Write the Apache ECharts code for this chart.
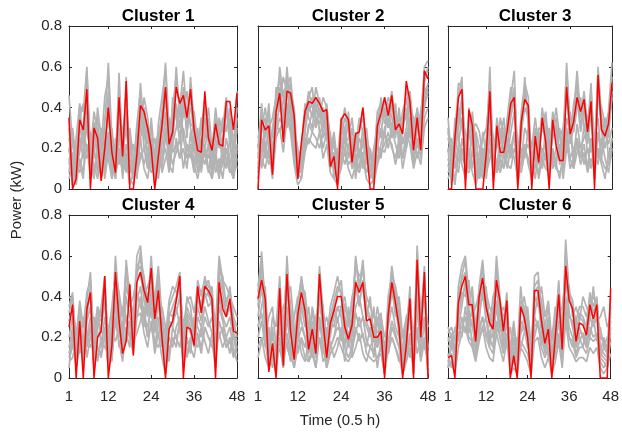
<!DOCTYPE html>
<html>
<head>
<meta charset="utf-8">
<script src="https://cdn.jsdelivr.net/npm/echarts@6/dist/echarts.min.js"></script>
<style>
  html, body { margin: 0; padding: 0; background: #fff; }
  #main { width: 622px; height: 434px; }
</style>
</head>
<body>
<div id="main"></div>
<script>
// tick labels
const xTicks = [1, 12, 24, 36, 48];
const yTicks = [0, 0.2, 0.4, 0.6, 0.8];
const clusterNames = ['Cluster 1', 'Cluster 2', 'Cluster 3', 'Cluster 4', 'Cluster 5', 'Cluster 6'];

// red line of each cluster (kW, one value per half hour)
const red1 = [0.35,0.00,0.05,0.34,0.29,0.49,0.00,0.30,0.25,0.04,0.20,0.40,
  0.18,0.08,0.45,0.16,0.53,0.00,0.00,0.17,0.41,0.38,0.30,0.20,
  0.00,0.16,0.31,0.50,0.22,0.28,0.50,0.42,0.46,0.35,0.49,0.29,
  0.19,0.18,0.48,0.25,0.19,0.32,0.22,0.21,0.43,0.43,0.29,0.47];
const red2 = [0.00,0.34,0.29,0.31,0.07,0.38,0.47,0.23,0.48,0.47,0.36,0.05,
  0.23,0.38,0.43,0.42,0.45,0.42,0.38,0.39,0.11,0.16,0.00,0.34,
  0.37,0.34,0.13,0.27,0.28,0.40,0.20,0.00,0.00,0.31,0.37,0.45,
  0.36,0.46,0.29,0.32,0.27,0.53,0.43,0.19,0.35,0.19,0.58,0.54];
const red3 = [0.00,0.00,0.25,0.45,0.49,0.00,0.39,0.31,0.00,0.00,0.00,0.18,
  0.48,0.00,0.31,0.18,0.18,0.29,0.42,0.45,0.00,0.33,0.44,0.41,
  0.00,0.26,0.13,0.35,0.23,0.00,0.34,0.21,0.14,0.14,0.50,0.27,
  0.33,0.45,0.38,0.44,0.28,0.43,0.00,0.56,0.29,0.26,0.32,0.52];
const red4 = [0.25,0.36,0.00,0.28,0.00,0.34,0.42,0.00,0.20,0.23,0.50,0.00,
  0.16,0.52,0.28,0.12,0.18,0.46,0.11,0.47,0.52,0.43,0.37,0.54,
  0.29,0.43,0.20,0.00,0.24,0.28,0.38,0.50,0.00,0.25,0.24,0.16,
  0.45,0.32,0.45,0.43,0.39,0.00,0.47,0.34,0.30,0.39,0.23,0.22];
const red5 = [0.39,0.48,0.39,0.03,0.17,0.00,0.44,0.06,0.51,0.23,0.09,0.31,
  0.42,0.33,0.14,0.24,0.12,0.51,0.27,0.10,0.27,0.33,0.40,0.40,
  0.25,0.19,0.26,0.47,0.42,0.47,0.28,0.29,0.20,0.20,0.23,0.00,
  0.31,0.47,0.37,0.25,0.00,0.16,0.39,0.00,0.58,0.20,0.52,0.00];
const red6 = [0.10,0.11,0.00,0.37,0.45,0.50,0.36,0.36,0.18,0.40,0.49,0.35,
  0.27,0.24,0.48,0.38,0.23,0.38,0.00,0.11,0.00,0.35,0.30,0.20,
  0.00,0.43,0.43,0.28,0.17,0.24,0.00,0.20,0.41,0.14,0.55,0.38,
  0.34,0.18,0.27,0.26,0.21,0.36,0.29,0.36,0.00,0.00,0.00,0.44];

// grey member lines of each cluster
const grey1 = [
  [0.46,0.22,0.12,0.41,0.38,0.60,0.15,0.33,0.20,0.08,0.31,0.62,0.25,0.10,0.57,0.18,0.30,0.12,0.05,0.28,0.45,0.36,0.22,0.30,
   0.12,0.25,0.38,0.62,0.30,0.20,0.52,0.40,0.58,0.35,0.45,0.28,0.18,0.30,0.44,0.22,0.15,0.35,0.20,0.25,0.38,0.30,0.18,0.48],
  [0.20,0.05,0.18,0.30,0.22,0.45,0.08,0.25,0.35,0.12,0.20,0.38,0.15,0.05,0.42,0.10,0.55,0.08,0.12,0.22,0.36,0.40,0.28,0.15,
   0.05,0.20,0.28,0.45,0.18,0.35,0.42,0.30,0.50,0.25,0.55,0.32,0.15,0.20,0.35,0.28,0.10,0.25,0.32,0.18,0.40,0.22,0.10,0.35],
  [0.12,0.18,0.08,0.25,0.15,0.35,0.22,0.10,0.18,0.05,0.15,0.28,0.08,0.20,0.30,0.05,0.22,0.15,0.10,0.25,0.52,0.28,0.15,0.08,
   0.12,0.05,0.22,0.35,0.15,0.28,0.40,0.22,0.38,0.48,0.30,0.20,0.12,0.25,0.18,0.35,0.08,0.20,0.28,0.12,0.25,0.15,0.05,0.22],
  [0.30,0.10,0.25,0.42,0.20,0.52,0.05,0.30,0.15,0.20,0.45,0.55,0.18,0.08,0.38,0.22,0.48,0.05,0.02,0.15,0.30,0.45,0.35,0.20,
   0.08,0.32,0.45,0.58,0.22,0.30,0.60,0.35,0.45,0.28,0.40,0.38,0.22,0.15,0.40,0.30,0.18,0.40,0.25,0.30,0.45,0.28,0.20,0.40],
  [0.15,0.02,0.10,0.18,0.28,0.20,0.12,0.05,0.22,0.15,0.08,0.20,0.30,0.12,0.18,0.08,0.15,0.25,0.05,0.10,0.18,0.12,0.20,0.25,
   0.05,0.15,0.10,0.25,0.35,0.18,0.22,0.15,0.30,0.20,0.15,0.25,0.08,0.18,0.12,0.22,0.05,0.15,0.10,0.20,0.15,0.08,0.12,0.18],
  [0.25,0.15,0.05,0.35,0.42,0.28,0.20,0.15,0.40,0.25,0.12,0.48,0.20,0.05,0.25,0.30,0.35,0.10,0.08,0.20,0.40,0.20,0.10,0.35,
   0.15,0.08,0.30,0.38,0.10,0.45,0.35,0.25,0.42,0.30,0.50,0.18,0.25,0.10,0.28,0.40,0.20,0.12,0.35,0.28,0.30,0.35,0.25,0.28],
  [0.08,0.25,0.20,0.12,0.05,0.40,0.10,0.20,0.08,0.30,0.22,0.15,0.05,0.25,0.12,0.20,0.08,0.30,0.15,0.05,0.25,0.35,0.10,0.18,
   0.25,0.10,0.15,0.20,0.08,0.22,0.30,0.45,0.25,0.15,0.22,0.10,0.30,0.08,0.20,0.15,0.25,0.08,0.15,0.05,0.20,0.12,0.18,0.10],
  [0.35,0.08,0.15,0.22,0.30,0.58,0.18,0.38,0.28,0.10,0.35,0.42,0.12,0.15,0.48,0.12,0.40,0.20,0.10,0.32,0.48,0.25,0.30,0.15,
   0.10,0.22,0.35,0.50,0.25,0.40,0.55,0.38,0.35,0.40,0.32,0.30,0.20,0.35,0.25,0.32,0.15,0.30,0.22,0.35,0.28,0.40,0.15,0.30],
  [0.05,0.12,0.02,0.15,0.08,0.22,0.05,0.12,0.05,0.18,0.10,0.25,0.05,0.12,0.20,0.08,0.15,0.02,0.08,0.12,0.25,0.10,0.05,0.18,
   0.02,0.10,0.15,0.30,0.12,0.08,0.25,0.15,0.20,0.10,0.28,0.12,0.05,0.15,0.22,0.10,0.05,0.18,0.08,0.12,0.20,0.10,0.05,0.15],
  [0.18,0.30,0.12,0.08,0.20,0.15,0.28,0.08,0.12,0.25,0.05,0.18,0.22,0.08,0.15,0.25,0.10,0.18,0.22,0.08,0.15,0.20,0.25,0.10,
   0.18,0.28,0.08,0.15,0.20,0.12,0.18,0.25,0.10,0.22,0.18,0.08,0.25,0.12,0.18,0.08,0.22,0.15,0.05,0.18,0.10,0.25,0.08,0.20]
];
const grey2 = [
  [0.15,0.38,0.25,0.42,0.12,0.45,0.55,0.32,0.60,0.40,0.25,0.05,0.15,0.35,0.48,0.40,0.38,0.45,0.30,0.42,0.20,0.12,0.05,0.30,
   0.40,0.28,0.15,0.22,0.30,0.35,0.18,0.05,0.12,0.38,0.42,0.35,0.45,0.40,0.30,0.35,0.28,0.50,0.38,0.25,0.40,0.30,0.60,0.63],
  [0.05,0.28,0.35,0.20,0.08,0.30,0.42,0.48,0.50,0.55,0.35,0.10,0.08,0.28,0.40,0.45,0.35,0.32,0.40,0.35,0.15,0.25,0.10,0.20,
   0.30,0.35,0.22,0.10,0.25,0.20,0.30,0.12,0.05,0.25,0.35,0.40,0.30,0.42,0.35,0.25,0.38,0.45,0.30,0.20,0.35,0.22,0.55,0.58],
  [0.20,0.42,0.18,0.30,0.25,0.38,0.48,0.25,0.45,0.52,0.30,0.15,0.20,0.42,0.35,0.30,0.45,0.38,0.25,0.30,0.28,0.05,0.15,0.25,
   0.18,0.38,0.10,0.28,0.15,0.30,0.22,0.08,0.20,0.30,0.25,0.45,0.38,0.30,0.42,0.20,0.32,0.35,0.42,0.15,0.28,0.38,0.50,0.45],
  [0.10,0.20,0.30,0.35,0.15,0.50,0.38,0.42,0.55,0.35,0.20,0.08,0.05,0.30,0.45,0.50,0.30,0.40,0.35,0.25,0.12,0.18,0.08,0.15,
   0.25,0.20,0.30,0.15,0.10,0.25,0.12,0.20,0.10,0.20,0.30,0.25,0.42,0.35,0.25,0.40,0.22,0.30,0.48,0.30,0.20,0.28,0.45,0.52],
  [0.25,0.35,0.22,0.15,0.30,0.42,0.50,0.38,0.40,0.45,0.28,0.18,0.10,0.20,0.30,0.38,0.42,0.28,0.30,0.38,0.22,0.10,0.20,0.12,
   0.30,0.15,0.25,0.05,0.20,0.15,0.25,0.18,0.08,0.15,0.22,0.30,0.35,0.25,0.30,0.32,0.15,0.25,0.35,0.28,0.15,0.25,0.40,0.48],
  [0.08,0.30,0.40,0.25,0.20,0.35,0.60,0.45,0.35,0.48,0.40,0.12,0.18,0.38,0.42,0.35,0.50,0.42,0.38,0.30,0.18,0.28,0.12,0.25,
   0.35,0.30,0.18,0.20,0.35,0.28,0.15,0.10,0.15,0.35,0.40,0.38,0.30,0.45,0.38,0.30,0.35,0.40,0.25,0.32,0.38,0.20,0.52,0.60],
  [0.18,0.15,0.28,0.38,0.10,0.28,0.35,0.30,0.42,0.30,0.15,0.05,0.12,0.25,0.22,0.28,0.35,0.30,0.20,0.28,0.10,0.15,0.05,0.10,
   0.20,0.12,0.15,0.08,0.12,0.18,0.08,0.12,0.02,0.12,0.18,0.22,0.28,0.20,0.15,0.25,0.10,0.20,0.30,0.12,0.25,0.15,0.35,0.40],
  [0.12,0.25,0.15,0.30,0.35,0.45,0.42,0.55,0.48,0.40,0.30,0.20,0.08,0.35,0.38,0.42,0.40,0.35,0.45,0.40,0.25,0.20,0.15,0.35,
   0.22,0.25,0.35,0.18,0.28,0.40,0.20,0.15,0.12,0.28,0.45,0.32,0.38,0.48,0.28,0.35,0.30,0.38,0.40,0.35,0.30,0.35,0.58,0.55],
  [0.08,0.15,0.10,0.20,0.05,0.25,0.30,0.18,0.35,0.28,0.12,0.02,0.05,0.18,0.25,0.22,0.20,0.28,0.15,0.22,0.08,0.05,0.02,0.12,
   0.18,0.10,0.05,0.12,0.08,0.15,0.05,0.02,0.05,0.15,0.20,0.18,0.25,0.22,0.12,0.20,0.15,0.28,0.22,0.10,0.18,0.12,0.30,0.35],
  [0.22,0.10,0.20,0.12,0.18,0.32,0.28,0.35,0.30,0.42,0.20,0.10,0.15,0.20,0.32,0.28,0.25,0.20,0.28,0.32,0.15,0.12,0.08,0.18,
   0.12,0.22,0.10,0.15,0.20,0.10,0.15,0.05,0.08,0.22,0.15,0.28,0.20,0.30,0.22,0.15,0.25,0.20,0.35,0.18,0.22,0.28,0.42,0.50]
];
const grey3 = [
  [0.30,0.10,0.25,0.52,0.50,0.15,0.35,0.28,0.05,0.12,0.08,0.20,0.60,0.10,0.35,0.22,0.28,0.30,0.45,0.58,0.05,0.38,0.52,0.45,
   0.10,0.30,0.18,0.40,0.28,0.10,0.35,0.25,0.20,0.18,0.62,0.30,0.38,0.58,0.35,0.48,0.30,0.52,0.10,0.60,0.35,0.30,0.38,0.62],
  [0.12,0.05,0.18,0.30,0.42,0.08,0.25,0.38,0.15,0.05,0.20,0.12,0.45,0.08,0.25,0.30,0.15,0.22,0.35,0.45,0.12,0.28,0.40,0.35,
   0.05,0.22,0.30,0.28,0.35,0.15,0.25,0.30,0.12,0.25,0.48,0.22,0.30,0.45,0.28,0.40,0.22,0.38,0.15,0.50,0.28,0.20,0.30,0.45],
  [0.25,0.18,0.10,0.22,0.35,0.28,0.15,0.30,0.32,0.28,0.15,0.05,0.30,0.20,0.12,0.25,0.35,0.15,0.28,0.38,0.20,0.15,0.30,0.25,
   0.15,0.10,0.25,0.18,0.22,0.30,0.12,0.20,0.28,0.10,0.35,0.28,0.15,0.32,0.20,0.25,0.30,0.18,0.25,0.35,0.15,0.28,0.22,0.30],
  [0.20,0.02,0.30,0.45,0.55,0.05,0.40,0.20,0.10,0.05,0.12,0.25,0.52,0.05,0.28,0.15,0.20,0.35,0.50,0.40,0.08,0.32,0.48,0.38,
   0.05,0.25,0.12,0.35,0.20,0.05,0.30,0.35,0.15,0.22,0.55,0.25,0.42,0.50,0.30,0.42,0.25,0.45,0.05,0.55,0.30,0.25,0.35,0.55],
  [0.08,0.12,0.05,0.15,0.20,0.10,0.08,0.18,0.12,0.15,0.05,0.10,0.20,0.12,0.08,0.15,0.10,0.18,0.22,0.15,0.05,0.12,0.20,0.15,
   0.08,0.18,0.05,0.15,0.10,0.08,0.20,0.12,0.05,0.18,0.25,0.10,0.15,0.22,0.12,0.18,0.08,0.15,0.10,0.20,0.12,0.05,0.18,0.15],
  [0.35,0.15,0.20,0.40,0.30,0.20,0.32,0.35,0.25,0.10,0.28,0.15,0.38,0.25,0.20,0.35,0.25,0.28,0.40,0.50,0.15,0.25,0.55,0.30,
   0.20,0.35,0.22,0.30,0.38,0.20,0.28,0.40,0.25,0.30,0.45,0.35,0.28,0.40,0.45,0.30,0.35,0.42,0.20,0.45,0.40,0.32,0.25,0.48],
  [0.15,0.08,0.35,0.25,0.15,0.12,0.20,0.10,0.28,0.20,0.10,0.18,0.25,0.15,0.30,0.10,0.12,0.25,0.15,0.28,0.10,0.20,0.15,0.30,
   0.12,0.15,0.28,0.12,0.30,0.22,0.15,0.10,0.30,0.15,0.20,0.38,0.10,0.25,0.15,0.32,0.18,0.22,0.28,0.15,0.22,0.35,0.15,0.25],
  [0.28,0.20,0.15,0.35,0.45,0.18,0.28,0.22,0.05,0.18,0.25,0.30,0.48,0.18,0.22,0.28,0.30,0.20,0.38,0.48,0.18,0.35,0.45,0.40,
   0.12,0.28,0.20,0.32,0.25,0.15,0.38,0.28,0.18,0.28,0.58,0.32,0.35,0.52,0.38,0.45,0.28,0.48,0.20,0.58,0.32,0.28,0.30,0.52],
  [0.05,0.10,0.02,0.20,0.12,0.05,0.15,0.08,0.02,0.10,0.05,0.15,0.25,0.05,0.12,0.08,0.18,0.10,0.20,0.28,0.02,0.15,0.22,0.12,
   0.05,0.12,0.08,0.20,0.15,0.05,0.18,0.10,0.08,0.12,0.30,0.15,0.20,0.25,0.15,0.22,0.10,0.25,0.05,0.28,0.15,0.10,0.12,0.25],
  [0.18,0.25,0.12,0.08,0.25,0.15,0.10,0.20,0.18,0.12,0.20,0.08,0.15,0.22,0.08,0.18,0.25,0.12,0.10,0.20,0.15,0.08,0.18,0.22,
   0.15,0.05,0.20,0.10,0.18,0.25,0.10,0.15,0.22,0.05,0.20,0.15,0.10,0.18,0.22,0.12,0.20,0.10,0.18,0.12,0.25,0.15,0.08,0.20]
];
const grey4 = [
  [0.35,0.42,0.15,0.30,0.10,0.38,0.52,0.12,0.30,0.28,0.45,0.15,0.25,0.60,0.35,0.20,0.58,0.40,0.30,0.60,0.65,0.45,0.38,0.55,
   0.30,0.50,0.25,0.10,0.30,0.35,0.40,0.48,0.15,0.35,0.30,0.25,0.42,0.35,0.50,0.40,0.45,0.12,0.58,0.45,0.38,0.42,0.30,0.25],
  [0.20,0.30,0.08,0.25,0.05,0.28,0.35,0.05,0.20,0.25,0.38,0.08,0.20,0.45,0.28,0.15,0.40,0.30,0.22,0.48,0.52,0.38,0.30,0.45,
   0.22,0.38,0.18,0.05,0.25,0.28,0.32,0.40,0.08,0.28,0.22,0.18,0.35,0.28,0.42,0.35,0.38,0.05,0.45,0.38,0.30,0.35,0.22,0.15],
  [0.10,0.15,0.25,0.12,0.20,0.15,0.25,0.30,0.15,0.10,0.20,0.25,0.12,0.30,0.20,0.28,0.22,0.15,0.35,0.30,0.40,0.25,0.42,0.30,
   0.28,0.20,0.35,0.25,0.12,0.20,0.15,0.30,0.22,0.10,0.18,0.28,0.20,0.12,0.25,0.20,0.15,0.28,0.22,0.15,0.20,0.12,0.22,0.18],
  [0.28,0.35,0.05,0.20,0.15,0.30,0.45,0.08,0.25,0.35,0.50,0.10,0.15,0.55,0.40,0.12,0.50,0.45,0.20,0.55,0.58,0.50,0.35,0.60,
   0.35,0.45,0.20,0.05,0.35,0.40,0.45,0.52,0.12,0.40,0.35,0.20,0.48,0.40,0.45,0.48,0.40,0.10,0.52,0.50,0.35,0.45,0.28,0.20],
  [0.05,0.22,0.18,0.35,0.08,0.20,0.30,0.15,0.10,0.18,0.25,0.05,0.30,0.35,0.15,0.22,0.30,0.25,0.15,0.38,0.45,0.30,0.25,0.35,
   0.15,0.28,0.30,0.12,0.20,0.15,0.25,0.30,0.18,0.20,0.12,0.30,0.25,0.20,0.30,0.25,0.30,0.15,0.35,0.28,0.20,0.25,0.15,0.08],
  [0.40,0.38,0.20,0.38,0.25,0.42,0.48,0.18,0.35,0.30,0.40,0.22,0.35,0.52,0.42,0.30,0.55,0.35,0.40,0.50,0.62,0.40,0.45,0.50,
   0.38,0.55,0.30,0.20,0.38,0.45,0.42,0.45,0.25,0.38,0.40,0.32,0.45,0.42,0.48,0.45,0.42,0.25,0.60,0.48,0.45,0.40,0.35,0.30],
  [0.15,0.25,0.10,0.15,0.30,0.10,0.20,0.22,0.35,0.15,0.30,0.18,0.08,0.40,0.25,0.35,0.30,0.20,0.25,0.42,0.35,0.30,0.20,0.40,
   0.25,0.30,0.15,0.20,0.28,0.25,0.35,0.25,0.10,0.30,0.25,0.15,0.30,0.25,0.35,0.28,0.22,0.18,0.40,0.30,0.25,0.30,0.20,0.12],
  [0.32,0.40,0.12,0.28,0.18,0.35,0.40,0.10,0.28,0.22,0.48,0.12,0.28,0.50,0.30,0.25,0.45,0.38,0.28,0.52,0.55,0.42,0.32,0.52,
   0.28,0.42,0.22,0.08,0.32,0.30,0.38,0.45,0.15,0.32,0.28,0.22,0.40,0.32,0.40,0.42,0.35,0.08,0.50,0.42,0.32,0.38,0.25,0.22],
  [0.12,0.20,0.05,0.15,0.10,0.18,0.25,0.05,0.15,0.12,0.22,0.05,0.10,0.28,0.18,0.08,0.25,0.20,0.12,0.30,0.32,0.22,0.15,0.28,
   0.12,0.22,0.10,0.02,0.15,0.18,0.20,0.25,0.05,0.18,0.15,0.10,0.22,0.15,0.25,0.20,0.18,0.05,0.28,0.22,0.15,0.20,0.12,0.10],
  [0.08,0.10,0.18,0.25,0.12,0.22,0.15,0.20,0.08,0.20,0.15,0.12,0.22,0.18,0.25,0.12,0.20,0.28,0.18,0.22,0.28,0.35,0.20,0.25,
   0.18,0.15,0.22,0.18,0.08,0.25,0.20,0.15,0.28,0.12,0.20,0.18,0.15,0.25,0.18,0.12,0.22,0.15,0.20,0.25,0.15,0.18,0.10,0.15]
];
const grey5 = [
  [0.42,0.62,0.35,0.10,0.25,0.05,0.45,0.12,0.60,0.30,0.15,0.35,0.50,0.38,0.20,0.28,0.15,0.55,0.30,0.12,0.30,0.38,0.45,0.42,
   0.30,0.20,0.30,0.60,0.45,0.58,0.35,0.30,0.25,0.22,0.28,0.05,0.35,0.55,0.42,0.30,0.05,0.20,0.45,0.05,0.65,0.25,0.55,0.05],
  [0.30,0.45,0.28,0.08,0.15,0.10,0.35,0.08,0.45,0.22,0.10,0.25,0.38,0.30,0.12,0.20,0.10,0.42,0.22,0.08,0.22,0.30,0.35,0.35,
   0.22,0.15,0.22,0.48,0.38,0.45,0.28,0.22,0.18,0.15,0.20,0.02,0.28,0.42,0.35,0.22,0.02,0.12,0.35,0.02,0.50,0.18,0.45,0.02],
  [0.20,0.28,0.15,0.25,0.08,0.18,0.22,0.30,0.15,0.10,0.25,0.12,0.20,0.15,0.28,0.10,0.22,0.18,0.12,0.25,0.15,0.20,0.30,0.18,
   0.25,0.30,0.15,0.22,0.30,0.20,0.15,0.25,0.10,0.30,0.15,0.18,0.12,0.25,0.20,0.15,0.22,0.10,0.18,0.25,0.12,0.20,0.15,0.10],
  [0.35,0.55,0.40,0.15,0.20,0.12,0.38,0.20,0.52,0.35,0.20,0.30,0.45,0.42,0.25,0.32,0.20,0.48,0.35,0.18,0.35,0.42,0.50,0.40,
   0.35,0.28,0.35,0.55,0.50,0.52,0.40,0.35,0.30,0.28,0.32,0.10,0.40,0.50,0.45,0.35,0.10,0.25,0.40,0.10,0.58,0.30,0.50,0.10],
  [0.15,0.20,0.10,0.05,0.12,0.08,0.15,0.05,0.22,0.12,0.05,0.15,0.18,0.10,0.08,0.12,0.05,0.20,0.15,0.05,0.12,0.15,0.20,0.15,
   0.10,0.08,0.12,0.25,0.18,0.22,0.12,0.10,0.08,0.10,0.12,0.02,0.15,0.20,0.15,0.10,0.02,0.08,0.15,0.05,0.25,0.10,0.20,0.05],
  [0.38,0.50,0.20,0.30,0.35,0.15,0.28,0.35,0.40,0.45,0.25,0.20,0.35,0.25,0.35,0.15,0.30,0.38,0.25,0.30,0.20,0.35,0.28,0.35,
   0.40,0.25,0.40,0.45,0.35,0.48,0.30,0.40,0.20,0.35,0.25,0.15,0.30,0.45,0.30,0.40,0.20,0.30,0.35,0.20,0.48,0.35,0.40,0.25],
  [0.25,0.35,0.45,0.12,0.30,0.25,0.50,0.15,0.35,0.20,0.30,0.40,0.28,0.20,0.15,0.35,0.25,0.30,0.20,0.15,0.28,0.25,0.35,0.30,
   0.15,0.35,0.20,0.35,0.40,0.30,0.25,0.20,0.35,0.15,0.30,0.20,0.25,0.35,0.25,0.20,0.15,0.28,0.30,0.15,0.40,0.22,0.30,0.15],
  [0.45,0.58,0.30,0.18,0.22,0.08,0.42,0.25,0.55,0.25,0.12,0.38,0.48,0.35,0.18,0.25,0.12,0.52,0.28,0.10,0.25,0.35,0.42,0.48,
   0.28,0.18,0.28,0.58,0.42,0.55,0.32,0.28,0.22,0.18,0.25,0.08,0.32,0.52,0.40,0.28,0.08,0.18,0.42,0.08,0.62,0.22,0.52,0.08],
  [0.25,0.32,0.18,0.05,0.10,0.02,0.20,0.05,0.30,0.15,0.05,0.18,0.25,0.20,0.08,0.15,0.05,0.28,0.15,0.05,0.15,0.20,0.25,0.22,
   0.15,0.10,0.15,0.32,0.25,0.30,0.18,0.15,0.12,0.10,0.15,0.02,0.18,0.28,0.22,0.15,0.02,0.10,0.22,0.02,0.35,0.12,0.28,0.02],
  [0.10,0.18,0.22,0.15,0.05,0.12,0.25,0.10,0.18,0.08,0.15,0.22,0.12,0.08,0.18,0.10,0.15,0.20,0.08,0.12,0.18,0.10,0.15,0.25,
   0.08,0.20,0.10,0.15,0.22,0.12,0.08,0.15,0.20,0.05,0.18,0.10,0.12,0.20,0.15,0.08,0.12,0.18,0.10,0.15,0.22,0.08,0.18,0.12]
];
const grey6 = [
  [0.15,0.18,0.08,0.45,0.55,0.60,0.42,0.40,0.20,0.45,0.58,0.38,0.30,0.28,0.60,0.40,0.25,0.42,0.05,0.15,0.05,0.38,0.35,0.25,
   0.05,0.50,0.52,0.32,0.20,0.30,0.05,0.25,0.48,0.18,0.68,0.42,0.38,0.22,0.32,0.30,0.25,0.42,0.35,0.40,0.15,0.12,0.10,0.35],
  [0.10,0.12,0.05,0.30,0.40,0.45,0.30,0.28,0.12,0.32,0.42,0.28,0.22,0.20,0.45,0.30,0.18,0.30,0.02,0.10,0.02,0.28,0.25,0.18,
   0.02,0.38,0.40,0.22,0.12,0.20,0.02,0.18,0.35,0.12,0.52,0.30,0.28,0.15,0.22,0.22,0.18,0.30,0.25,0.30,0.10,0.08,0.05,0.25],
  [0.20,0.15,0.25,0.18,0.30,0.22,0.35,0.15,0.28,0.20,0.25,0.30,0.15,0.35,0.22,0.28,0.15,0.20,0.25,0.12,0.20,0.15,0.22,0.30,
   0.15,0.20,0.28,0.15,0.25,0.10,0.20,0.30,0.15,0.25,0.30,0.20,0.15,0.28,0.20,0.15,0.25,0.20,0.30,0.18,0.25,0.15,0.20,0.22],
  [0.05,0.20,0.12,0.38,0.48,0.52,0.35,0.45,0.25,0.38,0.50,0.42,0.35,0.30,0.52,0.35,0.30,0.35,0.10,0.20,0.08,0.32,0.40,0.30,
   0.08,0.42,0.45,0.38,0.25,0.35,0.10,0.30,0.40,0.22,0.60,0.38,0.35,0.28,0.35,0.35,0.30,0.38,0.40,0.35,0.20,0.18,0.15,0.40],
  [0.12,0.05,0.10,0.22,0.25,0.30,0.20,0.18,0.10,0.22,0.30,0.20,0.15,0.12,0.28,0.20,0.12,0.22,0.05,0.08,0.05,0.18,0.15,0.12,
   0.05,0.25,0.28,0.15,0.10,0.15,0.05,0.12,0.22,0.08,0.35,0.20,0.18,0.10,0.15,0.15,0.12,0.20,0.18,0.20,0.08,0.05,0.08,0.18],
  [0.22,0.25,0.18,0.35,0.42,0.40,0.48,0.30,0.35,0.42,0.38,0.45,0.25,0.40,0.45,0.30,0.35,0.28,0.15,0.28,0.12,0.45,0.28,0.35,
   0.15,0.40,0.35,0.45,0.30,0.38,0.18,0.35,0.30,0.35,0.50,0.45,0.30,0.35,0.28,0.40,0.35,0.30,0.45,0.28,0.30,0.35,0.25,0.30],
  [0.08,0.15,0.20,0.25,0.35,0.48,0.25,0.35,0.15,0.28,0.45,0.30,0.20,0.15,0.38,0.25,0.20,0.35,0.08,0.25,0.10,0.22,0.30,0.20,
   0.10,0.30,0.42,0.25,0.15,0.25,0.08,0.20,0.38,0.15,0.55,0.32,0.25,0.15,0.25,0.20,0.15,0.35,0.28,0.35,0.12,0.20,0.12,0.28],
  [0.18,0.22,0.10,0.40,0.50,0.58,0.38,0.35,0.18,0.40,0.55,0.35,0.28,0.25,0.55,0.38,0.22,0.40,0.05,0.12,0.08,0.35,0.32,0.22,
   0.05,0.45,0.48,0.30,0.18,0.28,0.05,0.22,0.45,0.15,0.62,0.40,0.35,0.20,0.30,0.28,0.22,0.40,0.32,0.38,0.12,0.10,0.08,0.32],
  [0.05,0.08,0.02,0.15,0.22,0.25,0.18,0.15,0.08,0.18,0.25,0.15,0.10,0.08,0.22,0.15,0.08,0.18,0.02,0.05,0.02,0.15,0.12,0.08,
   0.02,0.18,0.20,0.10,0.05,0.10,0.02,0.08,0.18,0.05,0.28,0.15,0.12,0.08,0.10,0.10,0.08,0.15,0.12,0.15,0.05,0.02,0.05,0.12],
  [0.25,0.20,0.15,0.28,0.20,0.35,0.22,0.28,0.15,0.25,0.30,0.22,0.18,0.22,0.35,0.20,0.15,0.28,0.12,0.18,0.10,0.22,0.25,0.15,
   0.12,0.30,0.25,0.20,0.15,0.22,0.10,0.15,0.28,0.12,0.40,0.25,0.20,0.12,0.18,0.22,0.15,0.25,0.20,0.22,0.10,0.15,0.12,0.22]
];

const redLines = [red1, red2, red3, red4, red5, red6];
const greyLines = [grey1, grey2, grey3, grey4, grey5, grey6];

// subplot boxes (px)
const boxes = [
  { left: 69, top: 26, width: 168, height: 163 },
  { left: 258, top: 26, width: 170, height: 163 },
  { left: 448, top: 26, width: 164, height: 163 },
  { left: 69, top: 215, width: 168, height: 163 },
  { left: 258, top: 215, width: 170, height: 163 },
  { left: 448, top: 215, width: 164, height: 163 }
];

const FONT = 'Liberation Sans, Arial, Helvetica, sans-serif';
const AXC = '#262626';

function toPoints(arr) {
  return arr.map((v, i) => [i + 1, v]);
}

let chartDom = document.getElementById('main');
let myChart = echarts.init(chartDom, null, { renderer: 'canvas' });

let grids = [], xAxes = [], yAxes = [], series = [], titles = [];

boxes.forEach((b, i) => {
  grids.push({ left: b.left, top: b.top, width: b.width, height: b.height, containLabel: false });
  const bottomRow = i >= 3;
  const leftCol = i % 3 === 0;
  const tick = { show: true, inside: true, length: 3, customValues: xTicks, lineStyle: { color: AXC } };
  // bottom x
  xAxes.push({
    gridIndex: i, type: 'value', min: 1, max: 48, position: 'bottom',
    axisLine: { show: true, onZero: false, lineStyle: { color: AXC, width: 1 } },
    axisTick: tick,
    axisLabel: { show: bottomRow, customValues: xTicks, color: AXC, fontSize: 15, fontFamily: FONT, margin: 11 },
    splitLine: { show: false }
  });
  // top x (closes the box)
  xAxes.push({
    gridIndex: i, type: 'value', min: 1, max: 48, position: 'top',
    axisLine: { show: true, onZero: false, lineStyle: { color: AXC, width: 1 } },
    axisTick: tick,
    axisLabel: { show: false },
    splitLine: { show: false }
  });
  const ytick = { show: true, inside: true, length: 3, lineStyle: { color: AXC } };
  yAxes.push({
    gridIndex: i, type: 'value', min: 0, max: 0.8, interval: 0.2, position: 'left',
    axisLine: { show: true, onZero: false, lineStyle: { color: AXC, width: 1 } },
    axisTick: ytick,
    axisLabel: {
      show: leftCol, color: AXC, fontSize: 15, fontFamily: FONT, margin: 7,
      formatter: v => (v === 0 ? '0' : v.toFixed(1))
    },
    splitLine: { show: false }
  });
  yAxes.push({
    gridIndex: i, type: 'value', min: 0, max: 0.8, interval: 0.2, position: 'right',
    axisLine: { show: true, onZero: false, lineStyle: { color: AXC, width: 1 } },
    axisTick: ytick,
    axisLabel: { show: false },
    splitLine: { show: false }
  });

  greyLines[i].forEach(g => {
    series.push({
      type: 'line', xAxisIndex: 2 * i, yAxisIndex: 2 * i, data: toPoints(g),
      symbol: 'none', silent: true,
      lineStyle: { color: '#b3b3b3', width: 1.7 }
    });
  });
  series.push({
    type: 'line', xAxisIndex: 2 * i, yAxisIndex: 2 * i, data: toPoints(redLines[i]),
    symbol: 'none', z: 5,
    lineStyle: { color: '#ff0000', width: 1.5 }
  });

  titles.push({
    text: clusterNames[i],
    left: b.left + b.width / 2, top: b.top - 23, textAlign: 'center',
    textStyle: { fontSize: 17, fontWeight: 'bold', color: '#000', fontFamily: FONT }
  });
});

let option = {
  animation: false,
  backgroundColor: '#fff',
  title: titles,
  grid: grids,
  xAxis: xAxes,
  yAxis: yAxes,
  series: series,
  graphic: [
    {
      type: 'text', x: 17, y: 200, rotation: Math.PI / 2,
      style: { text: 'Power (kW)', fill: AXC, fontSize: 15, fontFamily: FONT, textAlign: 'center', textVerticalAlign: 'middle' }
    },
    {
      type: 'text', x: 340, y: 421,
      style: { text: 'Time (0.5 h)', fill: AXC, fontSize: 15, fontFamily: FONT, textAlign: 'center', textVerticalAlign: 'middle' }
    }
  ]
};

option && myChart.setOption(option);
</script>
</body>
</html>
